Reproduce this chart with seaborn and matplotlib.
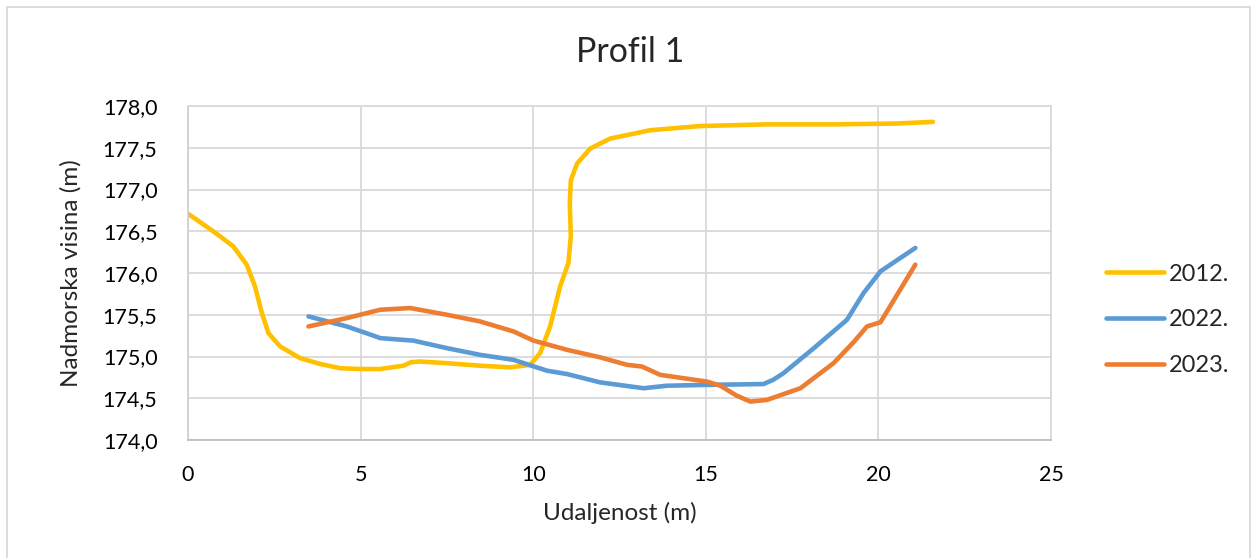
import matplotlib
matplotlib.use("Agg")
import matplotlib.pyplot as plt
from matplotlib.patches import Rectangle
from matplotlib.lines import Line2D
from matplotlib.ticker import FuncFormatter
import seaborn as sns
import pandas as pd

# Terrain profile: distance along the section (m) vs. elevation (m a.s.l.)
years = ["2012.", "2022.", "2023."]
colors = ["#FFC000", "#5B9BD5", "#ED7D31"]

x_2012 = [0.0, 0.73, 1.31, 1.70, 1.94, 2.14, 2.33, 2.67, 3.25, 3.83, 4.41, 4.99, 5.57,
          6.24, 6.45, 6.70, 7.50, 8.46, 9.33, 9.91, 10.20, 10.49, 10.78, 11.02, 11.09,
          11.06, 11.09, 11.27, 11.65, 12.23, 13.39, 14.84, 16.77, 18.70, 20.50, 21.58]
y_2012 = [176.71, 176.50, 176.32, 176.10, 175.84, 175.52, 175.28, 175.12, 174.98, 174.91,
          174.86, 174.85, 174.85, 174.89, 174.93, 174.94, 174.92, 174.89, 174.87, 174.90,
          175.04, 175.36, 175.84, 176.12, 176.44, 176.83, 177.11, 177.31, 177.49, 177.61,
          177.71, 177.76, 177.78, 177.78, 177.79, 177.81]

x_2022 = [3.49, 4.60, 5.30, 5.57, 6.53, 7.50, 8.46, 9.43, 10.40, 10.98, 11.94, 13.20,
          13.87, 15.03, 16.67, 16.95, 17.25, 18.13, 19.09, 19.57, 20.06, 21.07]
y_2022 = [175.48, 175.36, 175.26, 175.22, 175.19, 175.10, 175.02, 174.96, 174.83, 174.79,
          174.69, 174.62, 174.65, 174.66, 174.67, 174.72, 174.80, 175.10, 175.44, 175.76,
          176.02, 176.30]

x_2023 = [3.49, 4.60, 5.57, 6.44, 7.50, 8.46, 9.43, 10.01, 10.98, 11.94, 12.72, 13.15,
          13.68, 15.03, 15.42, 15.90, 16.29, 16.77, 17.74, 18.70, 19.30, 19.67, 20.06,
          21.07]
y_2023 = [175.36, 175.46, 175.56, 175.58, 175.50, 175.42, 175.30, 175.19, 175.08, 174.99,
          174.90, 174.88, 174.78, 174.70, 174.65, 174.53, 174.46, 174.48, 174.62, 174.92,
          175.18, 175.36, 175.41, 176.10]

x_ticks = [0, 5, 10, 15, 20, 25]
y_ticks = [174.0, 174.5, 175.0, 175.5, 176.0, 176.5, 177.0, 177.5, 178.0]

df = pd.concat([
    pd.DataFrame({"Udaljenost": x_2012, "Visina": y_2012, "Godina": years[0]}),
    pd.DataFrame({"Udaljenost": x_2022, "Visina": y_2022, "Godina": years[1]}),
    pd.DataFrame({"Udaljenost": x_2023, "Visina": y_2023, "Godina": years[2]}),
], ignore_index=True)

sns.set_theme(style="white")
plt.rcParams["font.family"] = ["Lato", "DejaVu Sans"]

fig = plt.figure(figsize=(12.52, 5.58), dpi=100)
ax = fig.add_axes([188 / 1252, 1 - 440 / 558, (1051 - 188) / 1252, (440 - 106) / 558])

sns.lineplot(data=df, x="Udaljenost", y="Visina", hue="Godina", hue_order=years,
             palette=colors, sort=False, estimator=None, linewidth=3.3, ax=ax,
             legend=False)
for ln in ax.get_lines():
    ln.set_solid_capstyle("round")
    ln.set_solid_joinstyle("round")

ax.set_xlim(0, 25)
ax.set_ylim(174.0, 178.0)
ax.set_xticks(x_ticks)
ax.set_yticks(y_ticks)
ax.yaxis.set_major_formatter(FuncFormatter(lambda v, p: f"{v:.1f}".replace(".", ",")))
ax.grid(True, color="#D9D9D9", linewidth=1.3)
ax.set_axisbelow(True)
for side, sp in ax.spines.items():
    sp.set_visible(True)
    sp.set_color("#D9D9D9")
    sp.set_linewidth(1.3)
ax.spines["bottom"].set_color("#BFBFBF")
ax.spines["left"].set_color("#D0D0D0")
ax.tick_params(axis="both", length=0, labelsize=15.5, colors="#000000")
ax.tick_params(axis="x", pad=18)
ax.tick_params(axis="y", pad=22)

ax.set_xlabel("Udaljenost (m)", fontsize=17.5, labelpad=12)
ax.set_ylabel("Nadmorska visina (m)", fontsize=17.5, labelpad=15)
fig.text(630 / 1252, 1 - 52 / 558, "Profil 1", ha="center", va="center", fontsize=24.5)

handles = [Line2D([0], [0], color=c, linewidth=3.3, solid_capstyle="round") for c in colors]
leg = fig.legend(handles, years, loc="center left",
                 bbox_to_anchor=(1094 / 1252, 1 - 320 / 558), frameon=False,
                 fontsize=17, handlelength=2.45, handletextpad=0.2,
                 labelspacing=1.05, borderpad=0)

# outer chart frame
fig.patches.append(Rectangle((7 / 1252, -0.02), (1250 - 7) / 1252, 1 - 7 / 558 + 0.02,
                             transform=fig.transFigure, fill=False,
                             edgecolor="#D9D9D9", linewidth=1.3))

fig.savefig("out.png", dpi=100, facecolor="white")
